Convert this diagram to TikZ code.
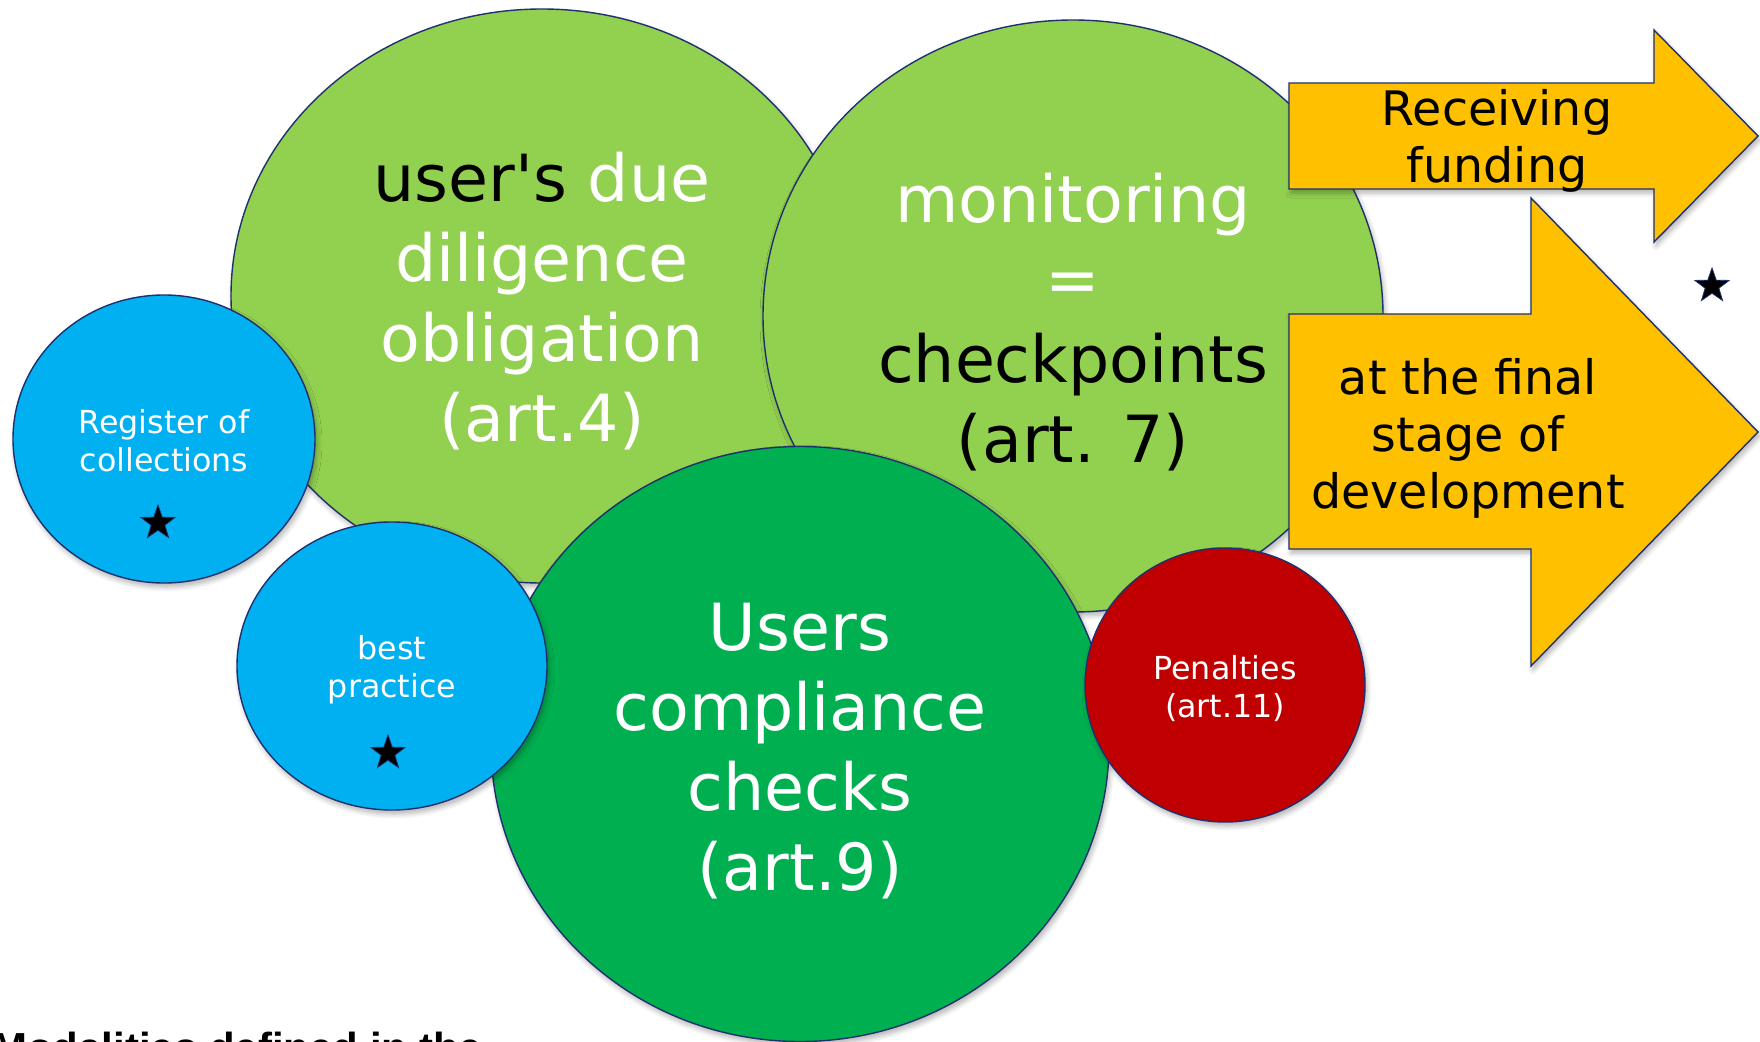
\documentclass[tikz,border=0pt]{standalone}
\usepackage{fontspec}
\setmainfont{DejaVu Sans}
\newfontfamily\captionfont{Liberation Sans}
\usetikzlibrary{shapes.geometric,shadows.blur}

\definecolor{edge}{RGB}{32,48,110}
\definecolor{lightgreen}{RGB}{146,208,80}
\definecolor{darkgreen}{RGB}{0,176,80}
\definecolor{skyblue}{RGB}{0,176,240}
\definecolor{penred}{RGB}{192,0,0}
\definecolor{amber}{RGB}{255,192,0}

% straight apostrophe, bypassing the TeX ligature mapping
\newcommand\straightquote{\XeTeXglyph\XeTeXcharglyph"27\relax}

\tikzset{
  softshadow/.style={blur shadow={shadow xshift=2pt, shadow yshift=-4pt,
      shadow blur radius=5pt, shadow blur steps=6, shadow opacity=30}},
  bubble/.style={ellipse, draw=edge, line width=1.4pt, inner sep=0pt, softshadow},
  bigtext/.style={align=center, inner sep=0pt, font=\fontsize{65}{80}\selectfont},
  smalltext/.style={align=center, inner sep=0pt, font=\fontsize{31.7}{38}\selectfont, text=white},
  arrowbox/.style={draw=edge, line width=1.4pt, fill=amber, line join=miter, softshadow},
  arrowtext/.style={align=center, inner sep=0pt, text=black,
      font=\fontsize{47.5}{57}\selectfont},
  starmark/.style={star, star points=5, star point ratio=2.5, fill=black, draw=edge,
      line width=0.8pt, minimum size=36pt, inner sep=0pt}
}

\begin{document}
\begin{tikzpicture}[x=1pt, y=-1pt]
  \useasboundingbox (0,0) rectangle (1760,1041);

  % obligation bubble
  \node[bubble, fill=lightgreen, minimum width=622pt, minimum height=574pt] (duty) at (542,296) {};
  \node[bigtext, text=white] (dutytext) at (542,301)
    {\textcolor{black}{user\straightquote s} due\\diligence\\obligation\\(art.4)};

  % register of collections
  \node[bubble, fill=skyblue, minimum width=302pt, minimum height=288pt] (register) at (164,439) {};
  \node[smalltext] (registertext) at (164,441) {Register of\\collections};
  \node[starmark] (regstar) at (158,523) {};

  % monitoring bubble
  \node[bubble, fill=lightgreen, minimum width=620pt, minimum height=592pt] (monitor) at (1073,316) {};
  \node[bigtext, text=white] (monitortext) at (1073,322)
    {monitoring\\=\\\textcolor{black}{checkpoints}\\\textcolor{black}{(art. 7)}};

  % compliance checks bubble
  \node[bubble, fill=darkgreen, minimum width=618pt, minimum height=595pt] (checks) at (800,744) {};
  \node[bigtext, text=white] (checkstext) at (800,751) {Users\\compliance\\checks\\(art.9)};

  % best practice
  \node[bubble, fill=skyblue, minimum width=310pt, minimum height=288pt] (practice) at (392,666) {};
  \node[smalltext] (practicetext) at (392,670) {best\\practice};
  \node[starmark] (practicestar) at (388,753) {};

  % penalties
  \node[bubble, fill=penred, minimum width=280pt, minimum height=274pt] (penalties) at (1225,685) {};
  \node[smalltext] (penaltiestext) at (1225,689) {Penalties\\(art.11)};

  % funding arrow
  \coordinate (fa1) at (1289,83);
  \coordinate (fa2) at (1654,83);
  \coordinate (fa3) at (1654,30);
  \coordinate (fa4) at (1758,136);
  \coordinate (fa5) at (1654,242);
  \coordinate (fa6) at (1654,189);
  \coordinate (fa7) at (1289,189);
  \draw[arrowbox] (fa1) -- (fa2) -- (fa3) -- (fa4) -- (fa5) -- (fa6) -- (fa7) -- cycle;
  \node[arrowtext] (funding) at (1497,141) {Receiving\\funding};

  % development arrow
  \coordinate (da1) at (1289,314);
  \coordinate (da2) at (1531,314);
  \coordinate (da3) at (1531,198);
  \coordinate (da4) at (1758,432);
  \coordinate (da5) at (1531,666);
  \coordinate (da6) at (1531,549);
  \coordinate (da7) at (1289,549);
  \draw[arrowbox] (da1) -- (da2) -- (da3) -- (da4) -- (da5) -- (da6) -- (da7) -- cycle;
  \node[arrowtext] (stage) at (1468,438) {at the final\\stage of\\development};

  \node[starmark] (sidestar) at (1712,286) {};

  % caption running off the lower edge
  \node[anchor=base west, inner sep=0pt, font=\captionfont\bfseries\fontsize{42}{50}\selectfont]
    (caption) at (-8,1062) {Modalities defined in the};
\end{tikzpicture}
\end{document}
